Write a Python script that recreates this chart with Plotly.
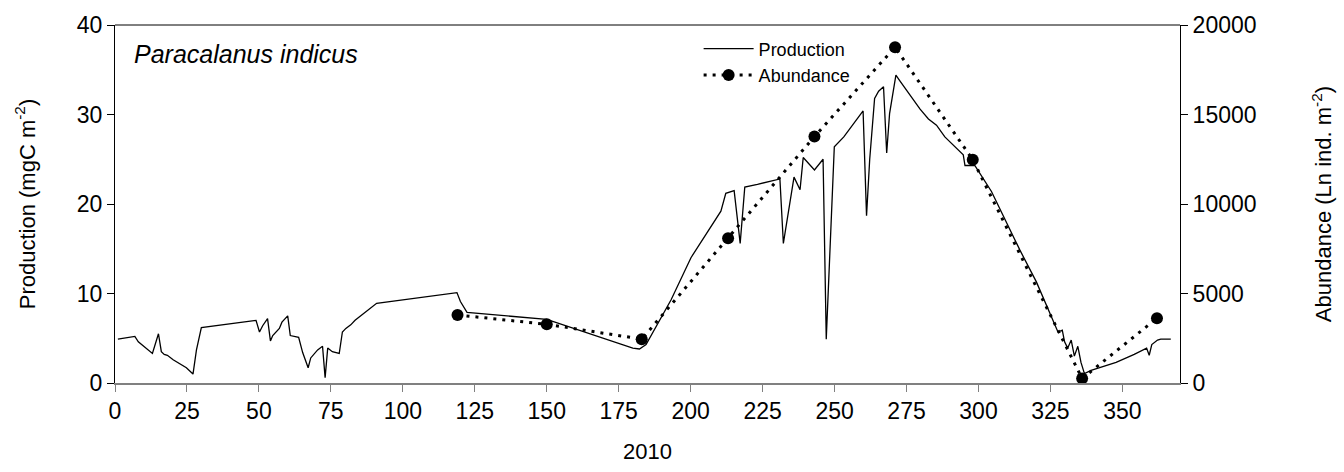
import plotly.graph_objects as go

# Daily secondary production of Paracalanus indicus (mgC m-2), 2010
prod_day = [1, 6.9, 8.1, 13, 15.1, 16.1, 17.1, 18.2, 20.2, 22.5, 24.8, 27.1, 28.3, 30,
            49, 50.2, 51.3, 53, 54, 54.8, 57.1, 58, 60, 60.9, 63.8, 65.2, 67.1, 68,
            70.4, 72.1, 73, 73.9, 75.5, 77.9, 79, 80.2, 81.9, 83.4, 85.9, 88, 90.9,
            118.8, 120, 122.3, 150, 179.9, 182.2, 184.5, 193.2, 200.1, 210.5, 212.2,
            215.1, 217.2, 218.8, 223.2, 231, 232.2, 235.9, 238, 239.1, 243, 246,
            247.1, 249.9, 253.2, 257.2, 259.9, 261.1, 262.2, 263.9, 265.3, 267,
            268.1, 269.1, 271.3, 272.8, 276.2, 279.7, 282.6, 285.4, 288.3, 294.7,
            295.3, 298.7, 304.5, 309.1, 314.3, 320.1, 327.6, 329.1, 329.9, 331,
            332.2, 333.3, 334.5, 335.6, 336.8, 339.1, 347.8, 354.1, 358.4, 359.3,
            360.2, 362.2, 363.3, 366.8]
prod_val = [4.9, 5.2, 4.6, 3.3, 5.5, 3.5, 3.2, 3.1, 2.6, 2.1, 1.7, 1.0, 3.7, 6.2,
            7.0, 5.7, 6.4, 7.2, 4.7, 5.3, 6.1, 6.8, 7.5, 5.3, 5.1, 3.4, 1.7, 2.8,
            3.7, 4.1, 0.6, 3.9, 3.5, 3.3, 5.7, 6.1, 6.5, 7.0, 7.6, 8.1, 8.9,
            10.1, 9.1, 7.9, 7.1, 3.9, 3.8, 4.3, 9.3, 14.0, 19.2, 21.2,
            21.5, 15.6, 21.9, 22.2, 22.8, 15.6, 23.0, 21.6, 25.2, 23.8, 25.0,
            4.9, 26.4, 27.5, 29.2, 30.4, 18.7, 25.0, 31.8, 32.6, 33.1,
            25.7, 30.1, 34.4, 33.7, 32.2, 30.6, 29.5, 28.8, 27.5, 25.5,
            24.3, 24.3, 21.4, 18.3, 14.9, 11.3, 5.7, 5.9, 4.6, 3.9,
            4.8, 3.0, 4.1, 2.3, 1.05, 1.4, 2.3, 3.2, 3.9, 3.1,
            4.3, 4.8, 4.9, 4.9]

# Sampled abundance (Ln ind. m-2)
abund_day = [119, 150, 183, 213, 243, 271, 298, 336, 362]
abund_val = [3800, 3280, 2450, 8090, 13770, 18760, 12470, 250, 3620]

FONT = "Liberation Sans, Arial, sans-serif"

fig = go.Figure()
fig.add_trace(go.Scatter(
    x=prod_day, y=prod_val, name="Production", mode="lines",
    line=dict(color="black", width=1.3), yaxis="y"))
fig.add_trace(go.Scatter(
    x=abund_day, y=abund_val, name="Abundance", mode="lines+markers",
    line=dict(color="black", width=3, dash="3px,6px"),
    marker=dict(color="black", size=12, symbol="circle"), yaxis="y2"))

fig.add_annotation(
    text="<i>Paracalanus indicus</i>", xref="paper", yref="paper",
    x=0.016, y=0.92, xanchor="left", yanchor="middle", showarrow=False,
    font=dict(family=FONT, size=25, color="black"))

# top frame line
fig.add_shape(type="line", xref="paper", yref="paper", x0=0, x1=1, y0=1, y1=1,
              line=dict(color="black", width=1))

fig.update_layout(
    width=1344, height=472,
    margin=dict(l=115, r=160, t=18, b=84),
    paper_bgcolor="white", plot_bgcolor="white",
    font=dict(family=FONT, color="black"),
    showlegend=True,
    legend=dict(x=0.548, y=0.985, xanchor="left", yanchor="top",
                bgcolor="rgba(0,0,0,0)", font=dict(family=FONT, size=18),
                itemwidth=50, tracegroupgap=0),
    xaxis=dict(range=[0, 370], tickmode="array", tickvals=list(range(0, 351, 25)),
               showline=True, linecolor="#808080", linewidth=1.5,
               ticks="outside", ticklen=7, tickcolor="#808080",
               tickfont=dict(size=23), showgrid=False, zeroline=False,
               title=dict(text="2010", font=dict(size=22), standoff=20)),
    yaxis=dict(range=[0, 40], dtick=10, showline=True, linecolor="black",
               ticks="outside", ticklen=7, tickcolor="black",
               tickfont=dict(size=23), showgrid=False, zeroline=False,
               title=dict(text="Production (mgC m<sup>-2</sup>)", font=dict(size=22),
                          standoff=35)),
    yaxis2=dict(range=[0, 20000], dtick=5000, tickformat="d", overlaying="y",
                side="right", showline=True, linecolor="black", ticks="outside",
                ticklen=7, tickcolor="black", tickfont=dict(size=23),
                showgrid=False, zeroline=False,
                title=dict(text="Abundance (Ln ind. m<sup>-2</sup>)", font=dict(size=22),
                           standoff=60)),
)

fig.write_html("out.html")
